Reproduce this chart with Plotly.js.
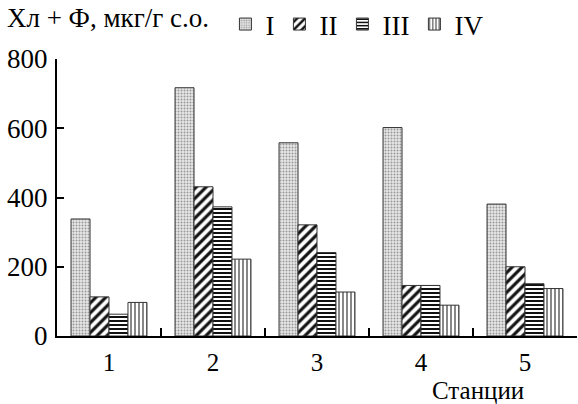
<!DOCTYPE html>
<html>
<head>
<meta charset="utf-8">
<script src="https://cdn.plot.ly/plotly-3.0.1.min.js"></script>
<style>html,body{margin:0;padding:0;background:#fff;}#chart{width:578px;height:404px;}</style>
</head>
<body>
<div id="chart"></div>
<script>
const stations = ["1", "2", "3", "4", "5"];
const seriesNames = ["I", "II", "III", "IV"];
const valuesI = [338, 717, 558, 602, 381];
const valuesII = [113, 431, 321, 146, 200];
const valuesIII = [63, 373, 241, 146, 151];
const valuesIV = [97, 222, 127, 89, 137];
const yTicks = [0, 200, 400, 600, 800];

const patterns = [
  {shape: ".", fgcolor: "#999", bgcolor: "#e8e8e8", size: 3, solidity: 0.35},
  {shape: "/", fgcolor: "#111", bgcolor: "#fff", size: 7, solidity: 0.45},
  {shape: "-", fgcolor: "#111", bgcolor: "#fff", size: 4, solidity: 0.5},
  {shape: "|", fgcolor: "#555", bgcolor: "#fff", size: 4, solidity: 0.35}
];
const allValues = [valuesI, valuesII, valuesIII, valuesIV];

const traces = allValues.map((v, i) => ({
  type: "bar",
  name: seriesNames[i],
  x: stations,
  y: v,
  marker: {
    color: patterns[i].bgcolor,
    pattern: patterns[i],
    line: {color: "#333", width: 1}
  }
}));

const font = {family: "Liberation Serif, Times New Roman, serif", size: 27, color: "#000"};
const smallFont = {family: "Liberation Serif, Times New Roman, serif", size: 25, color: "#000"};

const layout = {
  width: 578, height: 404,
  margin: {l: 57, r: 1, t: 59, b: 68},
  paper_bgcolor: "#fff", plot_bgcolor: "#fff",
  font: font,
  barmode: "group",
  bargap: 0.27,
  bargroupgap: 0,
  showlegend: true,
  legend: {
    orientation: "h", x: 0.39, xref: "container", y: 1.0, yref: "container",
    xanchor: "left", yanchor: "top",
    font: font, itemwidth: 30, traceorder: "normal",
    bgcolor: "rgba(0,0,0,0)"
  },
  title: {text: "Хл + Ф, мкг/г с.о.", x: 0.012, xanchor: "left", y: 0.98, yanchor: "top", font: font},
  xaxis: {
    type: "category",
    showline: true, linecolor: "#000", linewidth: 2,
    ticks: "inside", ticklen: 8, tickwidth: 2, tickcolor: "#000",
    tickson: "boundaries",
    showgrid: false, zeroline: false,
    tickfont: smallFont, ticklabelstandoff: 3
  },
  yaxis: {
    range: [0, 800],
    tickvals: yTicks,
    showline: true, linecolor: "#000", linewidth: 2,
    ticks: "inside", ticklen: 7, tickwidth: 2, tickcolor: "#000",
    showgrid: false, zeroline: false,
    tickfont: font, ticklabelstandoff: 2
  },
  annotations: [{
    text: "Станции", xref: "paper", yref: "paper",
    x: 0.81, y: -0.195, xanchor: "center", yanchor: "middle",
    showarrow: false, font: smallFont
  }]
};

Plotly.newPlot("chart", traces, layout, {displayModeBar: false, staticPlot: true});
</script>
</body>
</html>
